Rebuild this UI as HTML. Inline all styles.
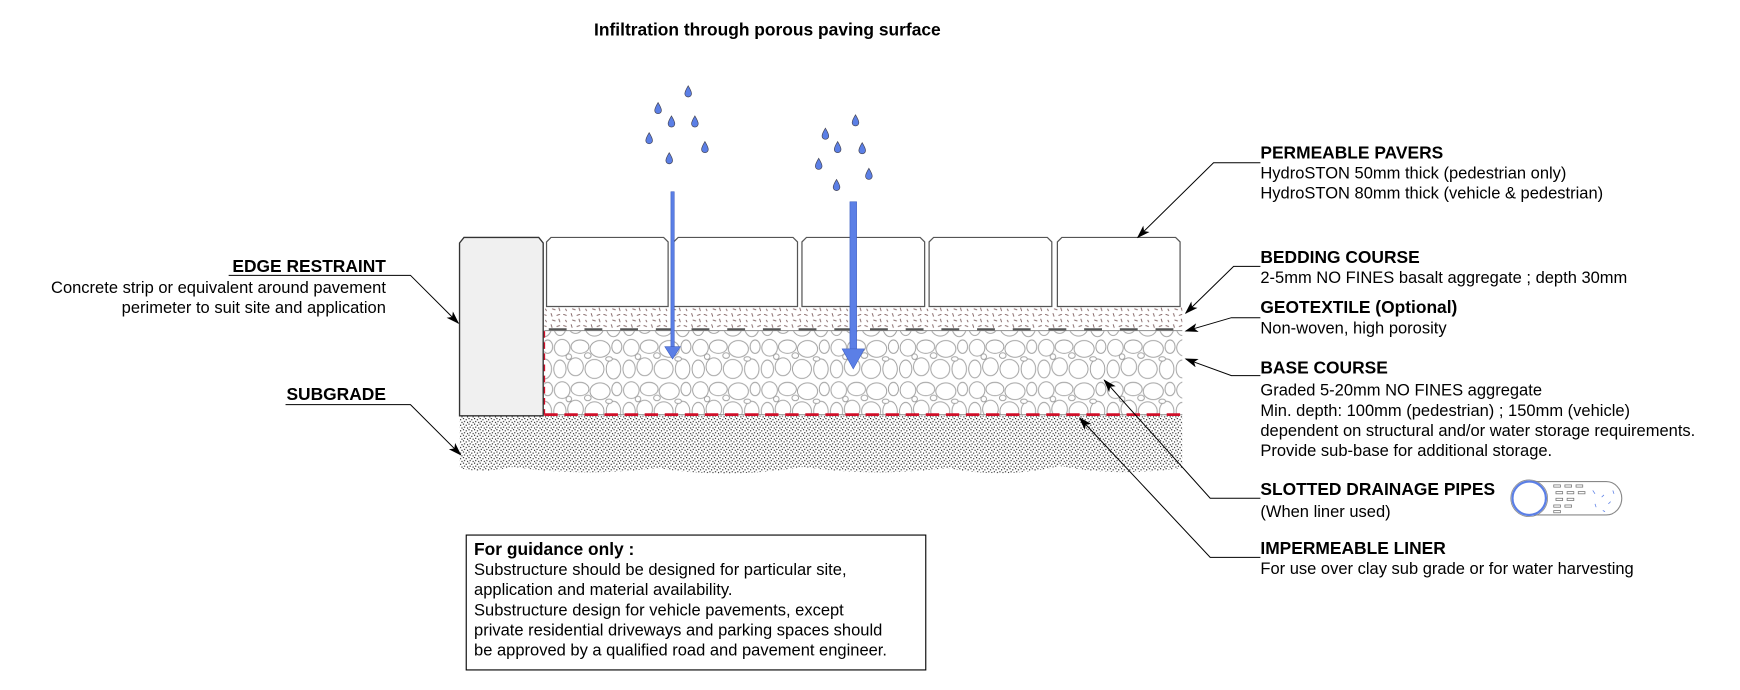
<!DOCTYPE html>
<html><head><meta charset="utf-8"><style>
html,body{margin:0;padding:0;background:#fff;}
svg{display:block;}
text{font-family:"Liberation Sans",Arial,sans-serif;fill:#000;}
.b{font-weight:bold;font-size:15.6px;}
.t{font-size:14.8px;}
</style></head><body>
<svg width="1740" height="690" viewBox="0 0 1560 619" preserveAspectRatio="none" xmlns="http://www.w3.org/2000/svg">
<defs>
<marker id="ar" markerWidth="12" markerHeight="8" refX="11" refY="4" orient="auto" markerUnits="userSpaceOnUse">
<path d="M0,0 L12,4 L0,8 L3,4 Z" fill="#000"/></marker>
<pattern id="peb" width="62" height="38" patternUnits="userSpaceOnUse">
<g fill="#fff" stroke="#999" stroke-width="0.8">
<ellipse cx="8" cy="8" rx="7" ry="7.5"/><ellipse cx="24" cy="7" rx="8" ry="6"/><ellipse cx="42" cy="9" rx="9" ry="7.5"/><ellipse cx="57" cy="7" rx="4.5" ry="6"/>
<ellipse cx="6" cy="27" rx="5.5" ry="8"/><ellipse cx="20" cy="25" rx="7" ry="8"/><ellipse cx="37" cy="27" rx="8.5" ry="8.5"/><ellipse cx="54" cy="27" rx="6.5" ry="9"/>
<ellipse cx="31" cy="15" rx="3" ry="2.5"/><ellipse cx="14" cy="16" rx="2.5" ry="2.5"/><ellipse cx="50" cy="18" rx="3" ry="2"/></g></pattern>
<pattern id="bed" width="18" height="10" patternUnits="userSpaceOnUse">
<g stroke="#7a5a5a" stroke-width="0.8">
<line x1="1" y1="2" x2="4" y2="3"/><line x1="8" y1="1" x2="9" y2="4"/><line x1="13" y1="3" x2="16" y2="2"/>
<line x1="3" y1="7" x2="4" y2="9"/><line x1="9" y1="7" x2="12" y2="8"/><line x1="15" y1="6" x2="16" y2="9"/></g></pattern>
<pattern id="dot" width="5" height="5" patternUnits="userSpaceOnUse">
<g fill="#111"><rect x="0" y="0" width="1" height="1"/><rect x="2.5" y="1" width="1" height="1"/><rect x="1" y="2.7" width="1" height="1"/><rect x="3.7" y="3.5" width="1" height="1"/></g></pattern>
</defs>

<text x="688" y="32" class="b" text-anchor="middle">Infiltration through porous paving surface</text>

<path d="M412,373 L1060,373 L1060,420 Q1000,428 950,418 Q900,430 850,420 Q780,428 720,419 Q650,430 590,420 Q520,428 460,419 Q430,425 412,420 Z" fill="url(#dot)"/>
<rect x="488" y="297" width="572" height="75" fill="#fff"/>
<rect x="488" y="297" width="572" height="75" fill="url(#peb)"/>
<rect x="488" y="275" width="572" height="20" fill="url(#bed)"/>
<line x1="488" y1="296.5" x2="1060" y2="296.5" stroke="#999" stroke-width="1"/>
<line x1="492" y1="295.5" x2="1060" y2="295.5" stroke="#555" stroke-width="2" stroke-dasharray="16,16"/>
<line x1="488" y1="372" x2="1060" y2="372" stroke="#999" stroke-width="1"/>
<line x1="488" y1="372" x2="1060" y2="372" stroke="#d0102a" stroke-width="2.5" stroke-dasharray="12,6"/>
<line x1="488" y1="297" x2="488" y2="372" stroke="#d0102a" stroke-width="1.5" stroke-dasharray="6,4"/>
<path d="M412,218 L416,213 L483,213 L487,218 L487,373 L412,373 Z" fill="#f0f0f0" stroke="#333" stroke-width="1.2"/>
<g fill="#fff" stroke="#555" stroke-width="1.1">
<path d="M490,275 L490,217 L494,213 L595,213 L599,217 L599,275 Z"/>
<path d="M604,275 L604,217 L608,213 L711,213 L715,217 L715,275 Z"/>
<path d="M719,275 L719,217 L723,213 L825,213 L829,217 L829,275 Z"/>
<path d="M833,275 L833,217 L837,213 L939,213 L943,217 L943,275 Z"/>
<path d="M948,275 L948,217 L952,213 L1054,213 L1058,217 L1058,275 Z"/>
</g>
<rect x="601.5" y="172" width="3" height="140" fill="#5b7fe6" stroke="#3a5bc0" stroke-width="0.5"/>
<path d="M596,311 L610,311 L603,322 Z" fill="#5b7fe6" stroke="#3a5bc0" stroke-width="0.5"/>
<rect x="762" y="181" width="6" height="133" fill="#5b7fe6" stroke="#3a5bc0" stroke-width="0.5"/>
<path d="M755,313 L775,313 L765,331 Z" fill="#5b7fe6" stroke="#3a5bc0" stroke-width="0.5"/>
<g fill="#5b7fe6" stroke="#445" stroke-width="0.6">
<path id="d" d="M0,-5 Q3,0 3,2 A3,3 0 0 1 -3,2 Q-3,0 0,-5 Z" transform="translate(617,82)"/>
<use href="#d" x="-27" y="15"/><use href="#d" x="-15" y="27"/><use href="#d" x="6" y="27"/>
<use href="#d" x="-35" y="42"/><use href="#d" x="15" y="50"/><use href="#d" x="-17" y="60"/>
<use href="#d" x="150" y="26"/><use href="#d" x="123" y="38"/><use href="#d" x="134" y="50"/><use href="#d" x="156" y="51"/>
<use href="#d" x="117" y="65"/><use href="#d" x="162" y="74"/><use href="#d" x="133" y="84"/>
</g>

<g stroke="#000" stroke-width="0.9" fill="none">
<polyline points="1130,146 1088,146 1020,213" marker-end="url(#ar)"/>
<polyline points="1130,239 1106,239 1063,281" marker-end="url(#ar)"/>
<polyline points="1130,285 1104,285 1063,297" marker-end="url(#ar)"/>
<polyline points="1130,337 1104,337 1063,322" marker-end="url(#ar)"/>
<polyline points="1130,447 1085,447 990,341" marker-end="url(#ar)"/>
<polyline points="1130,500 1085,500 968,375" marker-end="url(#ar)"/>
<polyline points="205,247 368,247 411,290" marker-end="url(#ar)"/>
<polyline points="256,363 368,363 413,408" marker-end="url(#ar)"/>
</g>

<text x="1130" y="142" class="b">PERMEABLE PAVERS</text>
<text x="1130" y="160" class="t">HydroSTON 50mm thick (pedestrian only)</text>
<text x="1130" y="178" class="t">HydroSTON 80mm thick (vehicle &amp; pedestrian)</text>
<text x="1130" y="236" class="b">BEDDING COURSE</text>
<text x="1130" y="254" class="t">2-5mm NO FINES basalt aggregate ; depth 30mm</text>
<text x="1130" y="281" class="b">GEOTEXTILE (Optional)</text>
<text x="1130" y="299" class="t">Non-woven, high porosity</text>
<text x="1130" y="335" class="b">BASE COURSE</text>
<text x="1130" y="355" class="t">Graded 5-20mm NO FINES aggregate</text>
<text x="1130" y="373" class="t">Min. depth: 100mm (pedestrian) ; 150mm (vehicle)</text>
<text x="1130" y="391" class="t">dependent on structural and/or water storage requirements.</text>
<text x="1130" y="409" class="t">Provide sub-base for additional storage.</text>
<text x="1130" y="444" class="b">SLOTTED DRAINAGE PIPES</text>
<text x="1130" y="464" class="t">(When liner used)</text>
<text x="1130" y="497" class="b">IMPERMEABLE LINER</text>
<text x="1130" y="515" class="t">For use over clay sub grade or for water harvesting</text>

<g>
<path d="M1375,432 L1440,432 A14,15 0 0 1 1440,462 L1375,462 Z" fill="#fff" stroke="#888" stroke-width="1"/>
<g fill="none" stroke="#777" stroke-width="0.7">
<rect x="1393" y="435" width="6" height="2"/><rect x="1403" y="435" width="6" height="2"/><rect x="1413" y="435" width="6" height="2"/>
<rect x="1395" y="441" width="6" height="2"/><rect x="1405" y="441" width="6" height="2"/><rect x="1415" y="441" width="6" height="2"/>
<rect x="1395" y="447" width="6" height="2"/><rect x="1405" y="447" width="6" height="2"/>
<rect x="1393" y="453" width="6" height="2"/><rect x="1403" y="453" width="6" height="2"/><rect x="1393" y="458" width="6" height="2"/>
</g>
<g stroke="#5b7fe6" stroke-width="0.7"><line x1="1428" y1="440" x2="1430" y2="443"/><line x1="1436" y1="446" x2="1438" y2="444"/><line x1="1430" y1="452" x2="1431" y2="455"/><line x1="1442" y1="452" x2="1444" y2="450"/><line x1="1437" y1="458" x2="1439" y2="459"/><line x1="1446" y1="440" x2="1447" y2="443"/></g>
<ellipse cx="1371" cy="447" rx="15" ry="15" fill="#fff" stroke="#5b7fe6" stroke-width="2"/>
<ellipse cx="1371" cy="447" rx="16.5" ry="16.5" fill="none" stroke="#888" stroke-width="0.7"/>
</g>

<text x="346" y="244" class="b" text-anchor="end">EDGE RESTRAINT</text>
<text x="346" y="263" class="t" text-anchor="end">Concrete strip or equivalent around pavement</text>
<text x="346" y="281" class="t" text-anchor="end">perimeter to suit site and application</text>
<text x="346" y="359" class="b" text-anchor="end">SUBGRADE</text>

<rect x="418" y="480" width="412" height="121" fill="#fff" stroke="#000" stroke-width="1"/>
<text x="425" y="498" class="b">For guidance only :</text>
<text x="425" y="516" class="t">Substructure should be designed for particular site,</text>
<text x="425" y="534" class="t">application and material availability.</text>
<text x="425" y="552" class="t">Substructure design for vehicle pavements, except</text>
<text x="425" y="570" class="t">private residential driveways and parking spaces should</text>
<text x="425" y="588" class="t">be approved by a qualified road and pavement engineer.</text>
</svg>
</body></html>
